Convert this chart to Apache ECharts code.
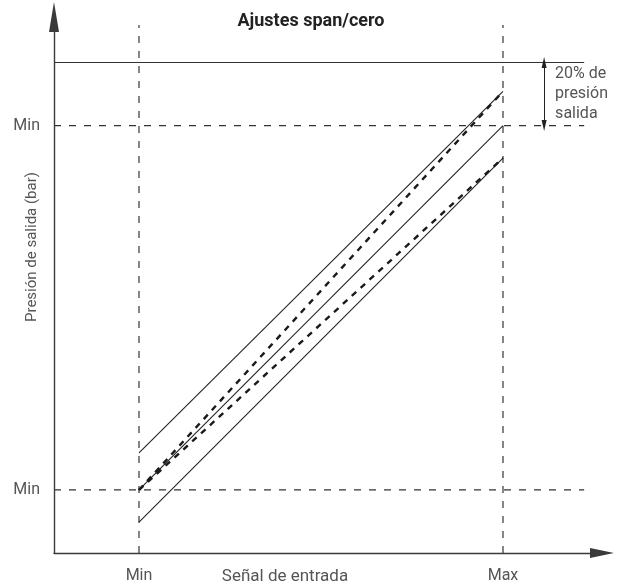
<!DOCTYPE html>
<html>
<head>
<meta charset="utf-8">
<script src="https://cdn.jsdelivr.net/npm/echarts@6/dist/echarts.min.js"></script>
<style>
html,body{margin:0;padding:0;background:#fff;}
#chart{width:622px;height:586px;}
</style>
</head>
<body>
<div id="chart"></div>
<script>
// ---- data ----
const titleText = 'Ajustes span/cero';
const xAxisTitle = 'Señal de entrada';
const yAxisTitle = 'Presión de salida (bar)';
const noteText = ['20% de', 'presión', 'salida'];
const xTickValues = [0, 100];
const xTickLabels = ['Min', 'Max'];
const yTickValues = [0, 100];
const yTickLabels = ['Min', 'Min'];
const inputX = [0, 100];              // signal min / max
const nominal = [0, 100];             // nominal characteristic
const zeroUp = [10.2, 109.4];         // zero shifted up
const zeroDown = [-8.8, 91.1];        // zero shifted down
const spanUp = [0, 109.4];            // span increased
const spanDown = [0, 91.1];           // span decreased
const limitLevel = 117.3;             // 20% output pressure limit
const xRange = [-23.35, 127.2];
const yRange = [-17.3, 129.8];
const guideXEnd = 122.3;
const guideYTop = 127.6;
const noteArrowX = 111.3;

const pair = (ys) => inputX.map((x, i) => [x, ys[i]]);

const chart = echarts.init(document.getElementById('chart'), null, {renderer: 'canvas'});
const txt = '#555';
const font = 'Roboto, "DejaVu Sans", sans-serif';
const solidStyle = {color: '#222', width: 1.1, type: 'solid'};
const boldDash = {color: '#1a1a1a', width: 2.4, type: [6, 6]};
const guideDash = {color: '#333', width: 1.2, type: [7, 8]};

function lineSeries(name, data, style, z) {
  return {
    name, type: 'line', data, showSymbol: false, symbol: 'none',
    lineStyle: style, silent: true, animation: false, z: z || 2
  };
}

chart.setOption({
  animation: false,
  backgroundColor: '#fff',
  title: {
    text: titleText, left: 'center', top: 7,
    textStyle: {fontFamily: font, fontSize: 18, fontWeight: 'bold', color: '#222'}
  },
  grid: {left: 54, right: 20, top: 17, bottom: 33, containLabel: false},
  xAxis: {
    type: 'value', min: xRange[0], max: xRange[1],
    axisLine: {show: true, onZero: false, lineStyle: {color: '#3a3a3a', width: 1.4},
      symbol: ['none', 'triangle'], symbolSize: [10, 24]},
    axisTick: {show: false},
    splitLine: {show: false},
    axisLabel: {
      customValues: xTickValues, margin: 15, color: txt, fontFamily: font, fontSize: 16,
      formatter: (v) => { const i = xTickValues.indexOf(v); return i >= 0 ? xTickLabels[i] : ''; }
    }
  },
  yAxis: {
    type: 'value', min: yRange[0], max: yRange[1],
    axisLine: {show: true, onZero: false, lineStyle: {color: '#3a3a3a', width: 1.4},
      symbol: ['none', 'triangle'], symbolSize: [10, 30]},
    axisTick: {show: false},
    splitLine: {show: false},
    axisLabel: {
      customValues: yTickValues, margin: 14, color: txt, fontFamily: font, fontSize: 16,
      formatter: (v) => { const i = yTickValues.indexOf(v); return i >= 0 ? yTickLabels[i] : ''; }
    }
  },
  series: [
    lineSeries('limit', [[xRange[0], limitLevel], [guideXEnd, limitLevel]], {color: '#333', width: 1.1, type: 'solid'}),
    lineSeries('maxLevel', [[xRange[0], yTickValues[1]], [guideXEnd, yTickValues[1]]], guideDash),
    lineSeries('minLevel', [[xRange[0], yTickValues[0]], [guideXEnd, yTickValues[0]]], guideDash),
    lineSeries('minInput', [[xTickValues[0], yRange[0]], [xTickValues[0], guideYTop]], guideDash),
    lineSeries('maxInput', [[xTickValues[1], yRange[0]], [xTickValues[1], guideYTop]], guideDash),
    lineSeries('zeroUp', pair(zeroUp), solidStyle, 3),
    lineSeries('nominal', pair(nominal), solidStyle, 3),
    lineSeries('zeroDown', pair(zeroDown), solidStyle, 3),
    lineSeries('spanUp', pair(spanUp), boldDash, 4),
    lineSeries('spanDown', pair(spanDown), boldDash, 4),
    {
      name: 'note', type: 'line', data: [], silent: true,
      markLine: {
        silent: true, animation: false,
        symbol: ['triangle', 'triangle'], symbolSize: [5, 11],
        label: {show: false},
        lineStyle: {color: '#222', width: 1, type: 'solid'},
        data: [[{coord: [noteArrowX, limitLevel]}, {coord: [noteArrowX, yTickValues[1]]}]]
      }
    }
  ]
});

const notePos = chart.convertToPixel({gridIndex: 0}, [noteArrowX, limitLevel]);
chart.setOption({
  graphic: [
    {
      type: 'text', x: 285, y: 577,
      style: {text: xAxisTitle, fill: txt, font: '17px ' + font, align: 'center', verticalAlign: 'middle'}
    },
    {
      type: 'text', x: 32, y: 247, rotation: Math.PI / 2,
      style: {text: yAxisTitle, fill: txt, font: '15px ' + font, align: 'center', verticalAlign: 'middle'}
    },
    {
      type: 'text', x: notePos[0] + 11, y: notePos[1] + 1,
      style: {text: noteText.join('\n'), fill: txt, font: '16px ' + font, lineHeight: 20}
    }
  ]
});
</script>
</body>
</html>
